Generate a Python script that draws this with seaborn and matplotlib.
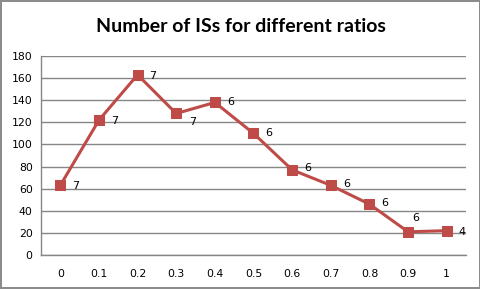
import pandas as pd
import numpy as np
import matplotlib
matplotlib.use('Agg')
import matplotlib.pyplot as plt
import seaborn as sns

# data
ratios = ['0', '0.1', '0.2', '0.3', '0.4', '0.5', '0.6', '0.7', '0.8', '0.9', '1']
num_iss = [63, 122, 163, 128, 138, 110, 77, 63, 46, 21, 22]
point_labels = ['7', '7', '7', '7', '6', '6', '6', '6', '6', '6', '4']
y_ticks = [0, 20, 40, 60, 80, 100, 120, 140, 160, 180]

# label placement (pixels offset from marker)
label_offsets = [(12, -1), (12, -1), (12, -1), (13, -9), (12, 0), (12, 0),
                 (12, 2), (12, 1), (12, 1), (4, 14), (12, -1)]

sns.set_style('white')
plt.rcParams['font.family'] = ['DejaVu Sans']
plt.rcParams['text.color'] = 'black'

line_color = '#BE4B48'
grid_color = '#868686'

df = pd.DataFrame({'ratio': ratios, 'count': num_iss})

fig = plt.figure(figsize=(4.81, 2.89), dpi=100)
fig.patch.set_edgecolor('#8c8c8c')
fig.patch.set_linewidth(1.5)
ax = fig.add_axes([41 / 481, 1 - 255 / 289, 425 / 481, 199 / 289])

sns.lineplot(data=df, x='ratio', y='count', ax=ax, color=line_color,
             linewidth=2.2, marker='s', markersize=7, markeredgecolor=line_color,
             sort=False)

for i, (v, lab) in enumerate(zip(num_iss, point_labels)):
    ax.annotate(lab, (i, v), xytext=label_offsets[i], textcoords='offset pixels',
                fontsize=8, color='black', va='center', ha='left')

ax.set_xlim(-0.5, len(ratios) - 0.5)
ax.set_ylim(0, 180)
ax.set_yticks(y_ticks)
ax.set_yticklabels([str(t) for t in y_ticks])
ax.yaxis.grid(True, color=grid_color, linewidth=1)
ax.xaxis.grid(False)
ax.set_axisbelow(True)

ax.set_xticks(range(len(ratios)))
ax.set_xticklabels(ratios)
ax.set_xticks(np.arange(-0.5, len(ratios)), minor=True)
ax.tick_params(axis='x', which='major', length=0, pad=10, labelsize=7.8, labelcolor='black')
ax.tick_params(axis='x', which='minor', length=4, color=grid_color, direction='out')
ax.tick_params(axis='y', length=4, color=grid_color, direction='out', labelsize=7.8, pad=2,
               labelcolor='black')
ax.set_xlabel('')
ax.set_ylabel('')

for side in ['top', 'right']:
    ax.spines[side].set_visible(False)
for side in ['left', 'bottom']:
    ax.spines[side].set_color(grid_color)
    ax.spines[side].set_linewidth(1)

fig.text(0.5, 1 - 26 / 289, 'Number of ISs for different ratios', ha='center', va='center',
         fontsize=14, fontweight='bold', color='black', family=['Lato', 'DejaVu Sans'])

fig.savefig('out.png', dpi=100, edgecolor=fig.get_edgecolor())
